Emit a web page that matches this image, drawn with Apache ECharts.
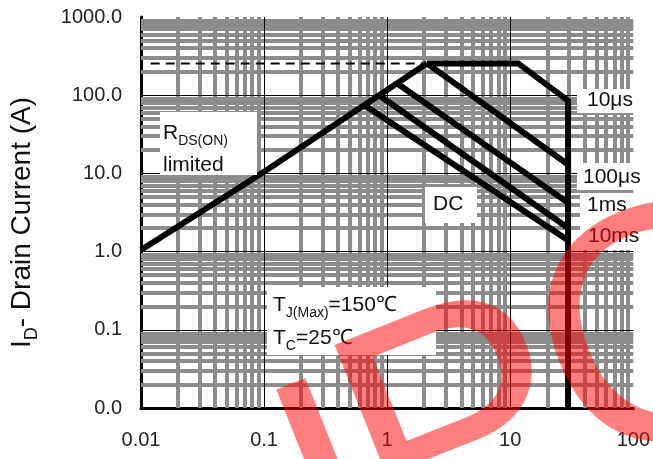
<!DOCTYPE html>
<html>
<head>
<meta charset="utf-8">
<script src="https://cdn.jsdelivr.net/npm/echarts@6/dist/echarts.min.js"></script>
<style>
  html, body { margin: 0; padding: 0; background: #fff; }
  #chart { width: 653px; height: 459px; }
</style>
</head>
<body>
<div id="chart"></div>
<script>
// safe operating area (V in volts, I in amps)
var rdsV = [0.01, 0.1, 2.1];
var rdsI = [1.05, 10.5, 255];
var limitV = [0.012, 2.1];
var limitI = [255, 255];
var us10V = [2.1, 11.6, 29.5, 29.5];
var us10I = [255, 255, 85, 0.01];
var us100V = [2.1, 29.5];
var us100I = [255, 13];
var ms1V = [1.2, 29.5];
var ms1I = [142, 4.2];
var ms10V = [0.86, 29.5];
var ms10I = [100, 2.0];
var dcV = [0.65, 29.5];
var dcI = [75, 1.4];

var xTicks = [0.01, 0.1, 1, 10, 100];
var xTickLabels = ['0.01', '0.1', '1', '10', '100'];
var yTicks = [0.01, 0.1, 1, 10, 100, 1000];
var yTickLabels = ['0.0', '0.1', '1.0', '10.0', '100.0', '1000.0'];

var FONT = '"Liberation Sans", Arial, sans-serif';

function zip(xs, ys) {
    var out = [];
    for (var i = 0; i < xs.length; i++) out.push([xs[i], ys[i]]);
    return out;
}

function pickLabel(v, ticks, labels) {
    for (var i = 0; i < ticks.length; i++) {
        if (Math.abs(Math.log10(v) - Math.log10(ticks[i])) < 1e-6) return labels[i];
    }
    return '';
}

// grid lines: gray 2..9 per decade, thin black at the decades
var minorX = [], minorY = [];
for (var k = -2; k <= 2; k++) {
    for (var m = 2; m <= 9; m++) {
        var v = m * Math.pow(10, k);
        if (k <= 1) minorX.push({ xAxis: v });
        minorY.push({ yAxis: v });
    }
}
var majorLines = [{ xAxis: 0.1 }, { xAxis: 1 }, { xAxis: 10 },
    { yAxis: 0.1 }, { yAxis: 1 }, { yAxis: 10 }, { yAxis: 100 }];

function gridSeries(name, lines, color, width, z) {
    return {
        name: name,
        type: 'line',
        data: [],
        z: z,
        silent: true,
        markLine: {
            silent: true,
            symbol: ['none', 'none'],
            label: { show: false },
            lineStyle: { color: color, width: width, type: 'solid' },
            emphasis: { disabled: true },
            animation: false,
            data: lines
        }
    };
}

function curve(name, xs, ys, extra) {
    var s = {
        name: name,
        type: 'line',
        data: zip(xs, ys),
        symbol: 'none',
        z: 5,
        lineStyle: { color: '#000', width: 6, join: 'miter' }
    };
    if (extra) s.lineStyle = Object.assign(s.lineStyle, extra);
    return s;
}

var sub = function (size) {
    return {
        m: { fontSize: size, fontFamily: FONT, color: '#111', lineHeight: size + 10 },
        s: { fontSize: Math.round(size * 0.66), fontFamily: FONT, color: '#111',
             lineHeight: Math.round(size * 0.66), verticalAlign: 'bottom' }
    };
};

function label(x, y, text, size) {
    return {
        type: 'text', x: x, y: y, z: 20,
        style: { text: text, rich: sub(size || 21), fill: '#111',
                 fontSize: size || 21, fontFamily: FONT, verticalAlign: 'middle' }
    };
}

function box(x1, y1, x2, y2) {
    return { type: 'rect', z: 15, silent: true,
             shape: { x: x1, y: y1, width: x2 - x1, height: y2 - y1 },
             style: { fill: '#fff' } };
}

// watermark letters, tilted
function mark(x, y, ch) {
    return {
        type: 'text', x: x, y: y, rotation: 0.38, z: 100, silent: true,
        style: { text: ch, fontSize: 335, fontFamily: FONT,
                 fill: 'rgba(255,0,0,0.5)', align: 'center', verticalAlign: 'middle' }
    };
}

var chart = echarts.init(document.getElementById('chart'));
chart.setOption({
    animation: false,
    backgroundColor: '#fff',
    grid: { left: 141, right: 17, top: 17, bottom: 51 },
    xAxis: {
        type: 'log', logBase: 10, min: 0.01, max: 100,
        axisLine: { show: true, onZero: false, lineStyle: { color: '#000', width: 3 } },
        axisTick: { show: false },
        splitLine: { show: false },
        axisLabel: {
            margin: 22, fontSize: 20, fontFamily: FONT, color: '#222',
            formatter: function (v) { return pickLabel(v, xTicks, xTickLabels); }
        }
    },
    yAxis: {
        type: 'log', logBase: 10, min: 0.01, max: 1000,
        name: '{m|I}{s|D}{m|- Drain Current (A)}',
        nameLocation: 'middle', nameRotate: 90, nameGap: 100,
        nameTextStyle: { rich: sub(28), padding: [0, 20, 0, 0] },
        axisLine: { show: true, lineStyle: { color: '#000', width: 3 } },
        axisTick: { show: false },
        splitLine: { show: false },
        axisLabel: {
            margin: 19, fontSize: 20, fontFamily: FONT, color: '#222',
            formatter: function (v) { return pickLabel(v, yTicks, yTickLabels); }
        }
    },
    series: [
        gridSeries('minorX', minorX, '#8c8c8c', 4, 1),
        gridSeries('minorY', minorY, '#8c8c8c', 4, 1),
        gridSeries('major', majorLines, '#000', 1, 2),
        curve('limit', limitV, limitI, { width: 2, type: [9, 6] }),
        curve('RDS(ON)', rdsV, rdsI),
        curve('10us', us10V, us10I),
        curve('100us', us100V, us100I),
        curve('1ms', ms1V, ms1I),
        curve('10ms', ms10V, ms10I),
        curve('DC', dcV, dcI)
    ],
    graphic: [
        box(160, 112, 257, 175),
        box(267, 287, 436, 355),
        box(425, 187, 477, 223),
        box(577, 89, 640, 113),
        box(577, 163, 640, 190),
        box(580, 193, 640, 250),
        label(163, 133, '{m|R}{s|DS(ON)}'),
        label(163, 165, '{m|limited}'),
        label(273, 305, '{m|T}{s|J(Max)}{m|=150℃}'),
        label(273, 338, '{m|T}{s|C}{m|=25℃}'),
        label(433, 204, '{m|DC}'),
        label(587, 100, '{m|10μs}'),
        label(583, 177, '{m|100μs}'),
        label(587, 205, '{m|1ms}'),
        label(588, 236, '{m|10ms}'),
        mark(342, 512, 'I'),
        mark(464, 442, 'P'),
        mark(665, 346, 'C')
    ]
});
</script>
</body>
</html>
